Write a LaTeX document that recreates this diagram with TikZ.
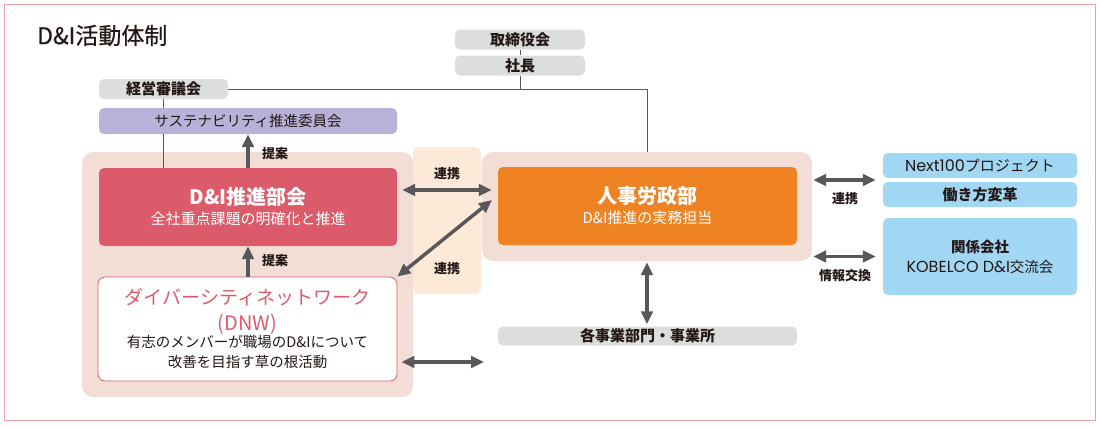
\documentclass[tikz,border=0pt]{standalone}
\usepackage{fontspec}
\setmainfont{Noto Sans CJK JP}
\newfontfamily\geofont{Poppins}
\newfontfamily\titlefont{Noto Sans CJK JP}[FakeBold=0.6]
\usetikzlibrary{arrows.meta,calc}
\definecolor{ink}{HTML}{231815}
\definecolor{framecol}{HTML}{E9A1A5}
\definecolor{boxgray}{HTML}{DCDDDD}
\definecolor{purplebox}{HTML}{B8B2D8}
\definecolor{pinkbg}{HTML}{F3DED7}
\definecolor{peachbg}{HTML}{FCE9D8}
\definecolor{redbox}{HTML}{DC5B6A}
\definecolor{orangebox}{HTML}{EF8323}
\definecolor{bluebox}{HTML}{A2D7F4}
\definecolor{arrowgray}{HTML}{595757}
\tikzset{
  box/.style={rectangle, rounded corners=5pt, inner sep=0pt, align=center, text=ink},
  graybox/.style={box, fill=boxgray, font=\fontsize{15}{16}\selectfont\bfseries},
  purplebx/.style={box, fill=purplebox, font=\fontsize{14.5}{16}\selectfont},
  bgbox/.style={rectangle, rounded corners=11pt, inner sep=0pt, fill=pinkbg},
  peachbox/.style={rectangle, rounded corners=6pt, inner sep=0pt, fill=peachbg},
  mainbox/.style={box, text=white, font=\fontsize{15}{20}\selectfont},
  bluebx/.style={box, fill=bluebox},
  lbl/.style={inner sep=0pt, text=ink, font=\fontsize{13}{15}\selectfont\bfseries},
  thinline/.style={draw=arrowgray, line width=0.8pt},
  biarrow/.style={draw=arrowgray, line width=3.5pt, {Triangle[length=13pt,width=11.5pt]}-{Triangle[length=13pt,width=11.5pt]}},
  uparrow/.style={draw=arrowgray, line width=3.5pt, -{Triangle[length=13pt,width=11.5pt]}}
}
\begin{document}
\begin{tikzpicture}[x=1pt,y=-1pt]
\useasboundingbox (0,0) rectangle (1100,426);
\fill[white] (0,0) rectangle (1100,426);
\draw[framecol, line width=1pt] (4.5,4.5) rectangle (1095.5,420.5);

% title
\node[anchor=west, inner sep=0pt, text=ink, font=\titlefont\fontsize{23}{26}\selectfont] (title) at (37,35.5) {D\&I活動体制};

% background panels
\node[bgbox, minimum width=331pt, minimum height=245pt] (leftpink) at (247.5,274.5) {};
\node[bgbox, minimum width=330pt, minimum height=109pt] (rightpink) at (647,206.5) {};
\node[peachbox, minimum width=68pt, minimum height=147pt] (peach) at (447,220.5) {};

% top boxes
\node[graybox, minimum width=130pt, minimum height=20pt] (torishimari) at (520,39.5) {取締役会};
\node[graybox, minimum width=130pt, minimum height=20pt] (shacho) at (520,65.5) {社長};
\node[graybox, minimum width=129pt, minimum height=20pt] (keiei) at (163.5,89) {経営審議会};
\node[purplebx, minimum width=298pt, minimum height=26pt] (sustain) at (248,121) {サステナビリティ推進委員会};

% main boxes
\node[mainbox, fill=redbox, minimum width=298pt, minimum height=78pt] (dipromo) at (248,207)
  {{\fontsize{20}{20}\selectfont\bfseries D\&I推進部会}\\全社重点課題の明確化と推進};
\node[box, fill=white, draw=redbox, line width=0.8pt, rounded corners=7pt, minimum width=299pt, minimum height=104pt, font=\fontsize{14.5}{20}\selectfont] (dnw) at (247.5,329)
  {{\color{redbox}\fontsize{19}{20}\selectfont ダイバーシティネットワーク}\\[6pt]
   {\color{redbox}\fontsize{20}{20}\selectfont (DNW)}\\[-3pt]
   有志のメンバーが職場のD\&Iについて\\
   改善を目指す草の根活動};
\node[mainbox, fill=orangebox, minimum width=299pt, minimum height=78pt] (orange) at (647.5,206)
  {{\fontsize{20}{20}\selectfont\bfseries 人事労政部}\\D\&I推進の実務担当};
\node[graybox, minimum width=299pt, minimum height=19pt] (kaku) at (647.5,336) {各事業部門・事業所};

% right boxes
\node[bluebx, minimum width=194pt, minimum height=25pt, font=\fontsize{15}{16}\selectfont] (next100) at (980,165.5) {{\geofont\fontsize{16}{16}\selectfont Next100}プロジェクト};
\node[bluebx, minimum width=194pt, minimum height=25pt, font=\fontsize{15}{16}\selectfont\bfseries] (hataraki) at (980,194.5) {働き方変革};
\node[bluebx, minimum width=194pt, minimum height=77pt, font=\fontsize{14.5}{20}\selectfont] (kankei) at (980,256.5)
  {{\bfseries 関係会社}\\{\geofont\fontsize{16}{16}\selectfont KOBELCO D\&I}交流会};

% thin organisational lines
\draw[thinline] (torishimari.south) -- (shacho.north);
\draw[thinline] (shacho.south) -- (shacho.south |- keiei.east);
\draw[thinline] (keiei.east) -| (rightpink.north);
\draw[thinline] (keiei.south) -- (keiei.south |- sustain.north);
\draw[thinline] (keiei.south |- sustain.south) -- (keiei.south |- dipromo.north);

% coordinates for free arrow ends
\coordinate (yA) at (0,190);
\coordinate (dtop) at (492,200);
\coordinate (yB) at (0,362);
\coordinate (bend) at (484,362);
\coordinate (mid) at ($(next100.south west)!0.5!(hataraki.north west)$);

% arrows
\draw[uparrow] (dipromo.north) -- (sustain.south);
\draw[uparrow] (dnw.north -| dipromo.south) -- (dipromo.south);
\draw[biarrow, shorten <=5pt, shorten >=6pt] (dipromo.east |- yA) -- (orange.west |- yA);
\draw[biarrow] (dtop) -- (dnw.north east);
\draw[biarrow, shorten <=4pt] (dnw.east |- yB) -- (bend);
\draw[biarrow, shorten <=1pt, shorten >=2pt] (rightpink.south) -- (rightpink.south |- kaku.north);
\draw[biarrow, shorten <=1pt, shorten >=7pt] (rightpink.east |- mid) -- (mid);
\draw[biarrow, shorten <=1pt, shorten >=7pt] (rightpink.east |- kankei.west) -- (kankei.west);

% arrow labels
\node[lbl, anchor=west] (teian1) at (262,154) {提案};
\node[lbl, anchor=west] (teian2) at (262,261) {提案};
\node[lbl] (renkei1) at (447,174) {連携};
\node[lbl] (renkei2) at (447,269) {連携};
\node[lbl] (renkei3) at (845,199) {連携};
\node[lbl] (joho) at (845,276) {情報交換};
\end{tikzpicture}
\end{document}
